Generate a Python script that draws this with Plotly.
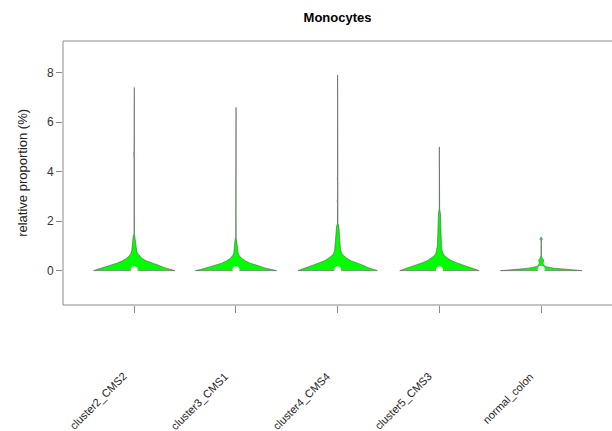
import plotly.graph_objects as go

# ---- data ----
categories = ["cluster2_CMS2", "cluster3_CMS1", "cluster4_CMS4", "cluster5_CMS3", "normal_colon"]
positions = [1, 2, 3, 4, 5]

# violin profiles: levels (relative proportion, %) and half-widths (x units)
y_c2 = [0, 0.05, 0.1, 0.2, 0.3, 0.4, 0.5, 0.6, 0.7, 0.8, 1.0, 1.2, 1.4, 1.5, 2.5, 4.5, 4.7, 4.9, 7.4]
w_c2 = [0.40, 0.35, 0.31, 0.25, 0.17, 0.115, 0.075, 0.048, 0.032, 0.024, 0.018, 0.014, 0.01, 0.002, 0.001, 0.001, 0.004, 0.001, 0.001]

y_c3 = [0, 0.05, 0.1, 0.2, 0.3, 0.4, 0.5, 0.6, 0.7, 0.9, 1.1, 1.25, 1.35, 2.0, 6.6]
w_c3 = [0.40, 0.34, 0.29, 0.22, 0.14, 0.09, 0.055, 0.033, 0.022, 0.016, 0.013, 0.009, 0.002, 0.001, 0.001]

y_c4 = [0, 0.05, 0.1, 0.2, 0.3, 0.4, 0.5, 0.6, 0.7, 0.8, 1.0, 1.3, 1.6, 1.8, 1.9, 2.7, 2.8, 2.9, 3.6, 3.7, 3.8, 7.9]
w_c4 = [0.39, 0.35, 0.31, 0.26, 0.19, 0.13, 0.09, 0.058, 0.04, 0.03, 0.024, 0.02, 0.016, 0.011, 0.002, 0.001, 0.005, 0.001, 0.001, 0.004, 0.001, 0.001]

y_c5 = [0, 0.05, 0.1, 0.2, 0.3, 0.4, 0.5, 0.6, 0.7, 0.8, 1.0, 1.5, 2.0, 2.3, 2.5, 4.1, 4.2, 4.3, 5.0]
w_c5 = [0.39, 0.35, 0.31, 0.25, 0.18, 0.12, 0.08, 0.05, 0.035, 0.026, 0.02, 0.016, 0.014, 0.01, 0.002, 0.001, 0.003, 0.001, 0.001]

y_nc = [0, 0.03, 0.06, 0.1, 0.15, 0.2, 0.3, 0.38, 0.43, 0.5, 0.6, 1.2, 1.27, 1.32, 1.36]
w_nc = [0.40, 0.30, 0.20, 0.12, 0.06, 0.03, 0.018, 0.022, 0.025, 0.01, 0.002, 0.001, 0.012, 0.004, 0.001]

medians = [0.03, 0.03, 0.03, 0.03, 0.05]

profiles = [(y_c2, w_c2), (y_c3, w_c3), (y_c4, w_c4), (y_c5, w_c5), (y_nc, w_nc)]

y_ticks = [0, 2, 4, 6, 8]

fig = go.Figure()

for pos, (ys, ws) in zip(positions, profiles):
    xs = [pos + w for w in ws] + [pos - w for w in reversed(ws)] + [pos + ws[0]]
    yy = list(ys) + list(reversed(ys)) + [ys[0]]
    fig.add_trace(go.Scatter(
        x=xs, y=yy, mode="lines", fill="toself",
        fillcolor="#00ff00", line=dict(color="#555555", width=0.6),
        hoverinfo="skip", showlegend=False))

fig.add_trace(go.Scatter(
    x=positions, y=medians, mode="markers",
    marker=dict(color="white", size=7, line=dict(width=0)),
    hoverinfo="skip", showlegend=False))

# category labels, rotated, placed well below the axis
for pos, lab in zip(positions, categories):
    fig.add_annotation(
        x=pos - 0.025, y=-0.238, xref="x", yref="paper",
        text=lab, textangle=-45, showarrow=False,
        xanchor="right", yanchor="top",
        font=dict(family="Liberation Sans, Arial, sans-serif", size=11, color="#222"))

# y-axis title
fig.add_annotation(
    x=-0.075, y=0.5, xref="paper", yref="paper",
    text="relative proportion (%)", textangle=-90, showarrow=False,
    xanchor="center", yanchor="middle",
    font=dict(family="Liberation Sans, Arial, sans-serif", size=13, color="#222"))

# frame (right side extends beyond the window, as in the reference)
fig.add_shape(type="rect", xref="paper", yref="paper", x0=0, x1=1.01, y0=0, y1=1,
              line=dict(color="#8a8a8a", width=1), fillcolor="rgba(0,0,0,0)", layer="above")

fig.update_layout(
    width=612, height=431,
    margin=dict(l=63, r=0, t=41, b=126),
    plot_bgcolor="white", paper_bgcolor="white",
    title=dict(text="<b>Monocytes</b>", x=0.5, xref="paper", y=1 - 17 / 431, yref="container",
               xanchor="center", yanchor="middle",
               font=dict(family="Liberation Sans, Arial, sans-serif", size=13, color="black")),
    xaxis=dict(range=[0.3, 5.696], tickvals=positions, ticktext=[""] * 5,
               ticks="outside", ticklen=7, tickcolor="#8a8a8a", tickwidth=1,
               showgrid=False, zeroline=False, showline=False),
    yaxis=dict(range=[-1.39, 9.28], tickvals=y_ticks, ticktext=[str(v) for v in y_ticks],
               ticks="outside", ticklen=6, tickcolor="#8a8a8a", tickwidth=1,
               tickfont=dict(family="Liberation Sans, Arial, sans-serif", size=12, color="#333"),
               showgrid=False, zeroline=False, showline=False),
)

fig.write_html("out.html")
